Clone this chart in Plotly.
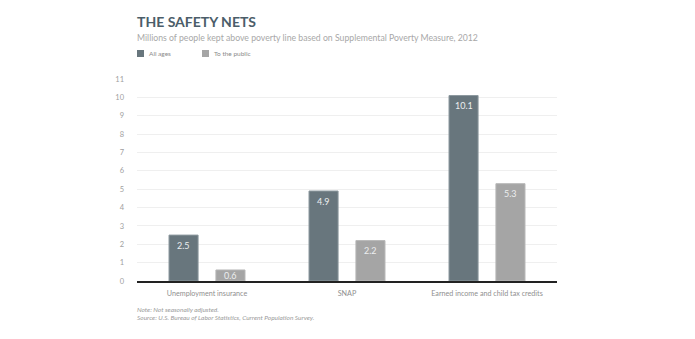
import plotly.graph_objects as go

# Safety-net programs and people kept above the poverty line (millions)
categories = ["Unemployment insurance", "SNAP", "Earned income and child tax credits"]
all_ages = [2.5, 4.9, 10.1]
to_public = [0.6, 2.2, 5.3]
y_ticks = list(range(0, 12))

series_names = ["All ages", "To the public"]
series_values = [all_ages, to_public]
series_colors = ["#68767d", "#a5a5a5"]
border_colors = ["#8d999f", "#b8b8b8"]

FONT = "Lato"
W, H = 695, 339
M_L, M_R, M_T, M_B = 137, 138, 79, 58
plot_w = W - M_L - M_R
plot_h = H - M_T - M_B
Y_MAX = 11
BARGAP, BARGROUPGAP = 0.33, 0.38


def py(px_from_top):
    """Convert a pixel row to paper y coordinates."""
    return 1 - (px_from_top - M_T) / plot_h


def px(px_from_left):
    """Convert a pixel column to paper x coordinates."""
    return (px_from_left - M_L) / plot_w


fig = go.Figure()
for name, vals, col, bcol in zip(series_names, series_values, series_colors, border_colors):
    fig.add_trace(go.Bar(
        x=categories, y=vals, name=name,
        marker=dict(color=col, line=dict(color=bcol, width=1)),
        showlegend=False, hoverinfo="x+y+name",
    ))

# Value labels just inside the top of each bar (kept inside short bars too)
slot_px = plot_w / len(categories) * (1 - BARGAP) / len(series_names)
value_labels = []
for i, vals in enumerate(series_values):
    shift = (i - (len(series_names) - 1) / 2) * slot_px
    for cat, v in zip(categories, vals):
        bar_px = v / Y_MAX * plot_h
        value_labels.append(dict(
            x=cat, y=v, xref="x", yref="y", text=f"{v:g}", showarrow=False,
            xanchor="center", yanchor="middle", xshift=shift,
            yshift=-min(10, bar_px / 2),
            font=dict(size=9, color="#eceeef", family=FONT),
        ))

# Small square legend drawn above the plot
legend_shapes = []
legend_notes = []
for name, col, x0 in zip(series_names, series_colors, [137, 202]):
    legend_shapes.append(dict(
        type="rect", xref="paper", yref="paper",
        x0=px(x0), x1=px(x0 + 7), y0=py(57), y1=py(50),
        fillcolor=col, line=dict(width=0),
    ))
    legend_notes.append(dict(
        text=name, xref="paper", yref="paper", x=px(x0 + 10), y=py(53.5),
        xanchor="left", yanchor="middle", showarrow=False,
        font=dict(size=6.5, color="#8a8a8a", family=FONT),
    ))

fig.update_layout(
    width=W, height=H,
    margin=dict(l=M_L, r=M_R, t=M_T, b=M_B),
    paper_bgcolor="white", plot_bgcolor="white",
    barmode="group", bargap=BARGAP, bargroupgap=BARGROUPGAP,
    font=dict(family=FONT, color="#9a9a9a", size=8),
    showlegend=False,
    xaxis=dict(
        showgrid=False, showline=True, linecolor="#222222", linewidth=1.5,
        ticks="", ticklabelstandoff=5,
        tickfont=dict(size=7.2, color="#8f8f8f", family=FONT),
    ),
    yaxis=dict(
        range=[0, Y_MAX], tickvals=y_ticks, ticktext=[str(v) for v in y_ticks],
        showgrid=True, gridcolor="#efefef", gridwidth=1, zeroline=False,
        showline=False, ticks="", ticklabelstandoff=12,
        tickfont=dict(size=7.5, color="#a0a0a0", family=FONT),
    ),
    shapes=legend_shapes,
    annotations=value_labels + legend_notes + [
        dict(text="<b>THE SAFETY NETS</b>", xref="paper", yref="paper",
             x=px(135), y=py(22), xanchor="left", yanchor="middle", showarrow=False,
             font=dict(size=14, color="#4b5d69", family=FONT)),
        dict(text="Millions of people kept above poverty line based on Supplemental Poverty Measure, 2012",
             xref="paper", yref="paper", x=px(135), y=py(37), xanchor="left", yanchor="middle",
             showarrow=False, font=dict(size=8.7, color="#a8a8a8", family=FONT)),
        dict(text="<i>Note: Not seasonally adjusted.</i>", xref="paper", yref="paper",
             x=px(135), y=py(309), xanchor="left", yanchor="middle", showarrow=False,
             font=dict(size=6.5, color="#9a9a9a", family=FONT)),
        dict(text="<i>Source: U.S. Bureau of Labor Statistics, Current Population Survey.</i>",
             xref="paper", yref="paper", x=px(135), y=py(317), xanchor="left", yanchor="middle",
             showarrow=False, font=dict(size=6.5, color="#9a9a9a", family=FONT)),
    ],
)

fig.write_html("out.html")
